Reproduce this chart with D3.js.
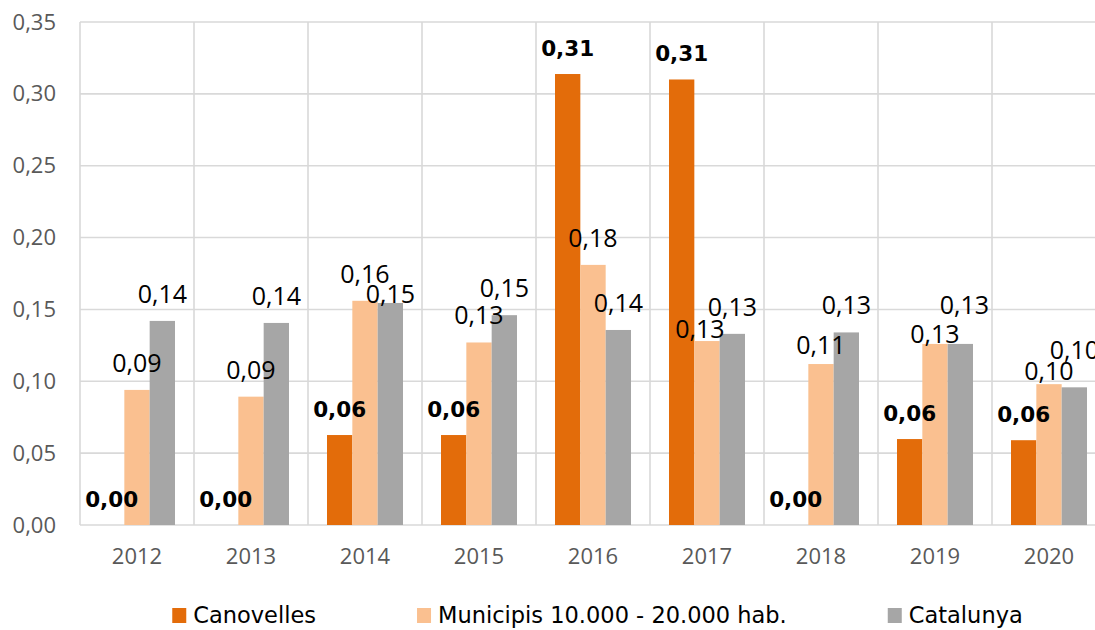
<!DOCTYPE html>
<html>
<head>
<meta charset="utf-8">
<script src="https://cdn.jsdelivr.net/npm/d3@7"></script>
<style>
  html, body { margin: 0; padding: 0; background: #fff; }
  svg { display: block; font-family: "Open Sans", "DejaVu Sans", sans-serif; }
</style>
</head>
<body>
<svg id="chart" width="1095" height="630"></svg>
<script>
// Years on the category axis
const years = ["2012", "2013", "2014", "2015", "2016", "2017", "2018", "2019", "2020"];

// Series names, shown in the legend
const seriesNames = ["Canovelles", "Municipis 10.000 - 20.000 hab.", "Catalunya"];

// Series values per year
const canovelles = [0.000, 0.000, 0.0626, 0.0626, 0.3138, 0.3100, 0.000, 0.0598, 0.0590];
const municipis  = [0.0940, 0.0893, 0.1560, 0.1270, 0.1810, 0.1280, 0.1120, 0.1260, 0.0980];
const catalunya  = [0.1420, 0.1406, 0.1545, 0.1460, 0.1357, 0.1330, 0.1340, 0.1260, 0.0958];

// Y axis ticks
const yTicks = [0, 0.05, 0.10, 0.15, 0.20, 0.25, 0.30, 0.35];

// Look of each series
const seriesColors = ["#E36C0A", "#FAC090", "#A6A6A6"];
const seriesBold = [true, false, false];

// Hand-placed label nudges (px) for labels moved to avoid crowding: [series, year] -> [dx, dy]
const labelNudges = {
  "1|2017": [-7, 15],
  "1|2018": [0, 8],
  "1|2019": [0, 17],
  "1|2020": [0, 14],
  "2|2014": [0, 18],
  "2|2019": [4, -12],
  "2|2020": [0, -10]
};

const seriesValues = [canovelles, municipis, catalunya];
const rows = [];
seriesValues.forEach((vals, s) => {
  vals.forEach((v, i) => rows.push({ s, year: years[i], value: v }));
});

const svg = d3.select("#chart");
const margin = { left: 80, top: 22 };
const plotRight = 1106;
const plotBottom = 525;

const x0 = d3.scaleBand().domain(years).range([margin.left, plotRight]).paddingInner(0).paddingOuter(0);
const x1 = d3.scaleBand().domain(d3.range(seriesValues.length)).range([0, x0.bandwidth()])
  .paddingInner(0).paddingOuter(0.75);
const y = d3.scaleLinear().domain([0, 0.35]).range([plotBottom, margin.top]);

const fmt = v => d3.format(".2f")(v).replace(".", ",");
const grid = "#D9D9D9";
const axisFont = "'Open Sans', 'DejaVu Sans', sans-serif";

// Horizontal gridlines
svg.append("g").selectAll("line").data(yTicks).join("line")
  .attr("x1", margin.left).attr("x2", plotRight)
  .attr("y1", d => y(d)).attr("y2", d => y(d))
  .attr("stroke", grid).attr("stroke-width", 1.6);

// Vertical gridlines between categories
const bounds = years.map(d => x0(d)).concat([plotRight]);
svg.append("g").selectAll("line").data(bounds).join("line")
  .attr("x1", d => d).attr("x2", d => d)
  .attr("y1", margin.top).attr("y2", plotBottom)
  .attr("stroke", grid).attr("stroke-width", 1.6);

// Y axis labels
const yAxis = d3.axisLeft(y).tickValues(yTicks).tickFormat(fmt).tickSize(0).tickPadding(24);
svg.append("g").attr("transform", `translate(${margin.left},0)`).call(yAxis)
  .call(g => g.select(".domain").remove())
  .call(g => g.selectAll("text").attr("fill", "#595959").attr("font-size", 22)
    .attr("font-family", axisFont));

// X axis labels
const xAxis = d3.axisBottom(x0).tickSize(0).tickPadding(23);
svg.append("g").attr("transform", `translate(0,${plotBottom})`).call(xAxis)
  .call(g => g.select(".domain").remove())
  .call(g => g.selectAll("text").attr("fill", "#595959").attr("font-size", 22)
    .attr("font-family", axisFont));

// Bars
svg.append("g").selectAll("rect").data(rows).join("rect")
  .attr("x", d => x0(d.year) + x1(d.s))
  .attr("width", x1.bandwidth())
  .attr("y", d => y(d.value))
  .attr("height", d => plotBottom - y(d.value))
  .attr("fill", d => seriesColors[d.s]);

// Value labels
const nudge = d => labelNudges[d.s + "|" + d.year] || [0, 0];
svg.append("g").selectAll("text").data(rows).join("text")
  .attr("x", d => x0(d.year) + x1(d.s) + x1.bandwidth() / 2 + nudge(d)[0])
  .attr("y", d => y(d.value) - 18 + nudge(d)[1])
  .attr("text-anchor", "middle")
  .attr("font-family", d => seriesBold[d.s] ? "'DejaVu Sans', Verdana, sans-serif" : axisFont)
  .attr("font-size", d => seriesBold[d.s] ? 21.5 : 25)
  .attr("font-weight", d => seriesBold[d.s] ? "bold" : "normal")
  .attr("fill", "#000")
  .text(d => fmt(d.value));

// Legend
const legend = svg.append("g");
const items = legend.selectAll("g").data(seriesNames).join("g");
items.append("rect").attr("width", 14).attr("height", 15).attr("y", 608)
  .attr("fill", (d, i) => seriesColors[i]);
items.append("text").attr("x", 21).attr("y", 623).attr("font-size", 22.5).attr("fill", "#000")
  .attr("font-family", "'DejaVu Sans', sans-serif")
  .text(d => d);
const gap = 101;
const widths = [];
items.each(function () { widths.push(21 + d3.select(this).select("text").node().getComputedTextLength()); });
const total = d3.sum(widths) + gap * (widths.length - 1);
let cursor = 597.5 - total / 2;
items.each(function (d, i) {
  d3.select(this).attr("transform", `translate(${cursor},0)`);
  cursor += widths[i] + gap;
});
</script>
</body>
</html>
